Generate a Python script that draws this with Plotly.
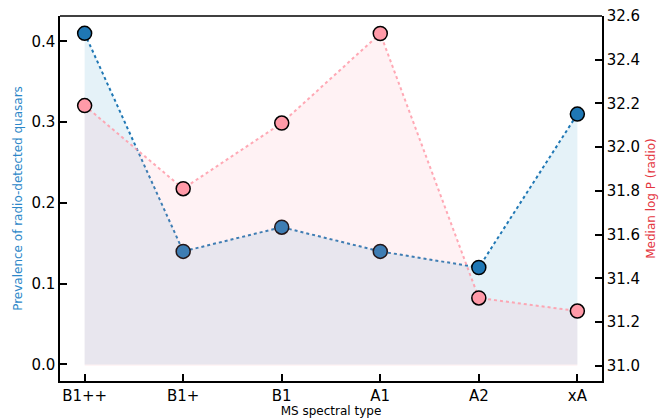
import plotly.graph_objects as go

categories = ["B1++", "B1+", "B1", "A1", "A2", "xA"]
prevalence = [0.41, 0.14, 0.17, 0.14, 0.12, 0.31]
median_logp = [32.19, 31.81, 32.11, 32.52, 31.31, 31.25]
left_ticks = [0.0, 0.1, 0.2, 0.3, 0.4]
right_ticks = [31.0, 31.2, 31.4, 31.6, 31.8, 32.0, 32.2, 32.4, 32.6]
right_base = 31.0

BLUE = "#1f77b4"
PINK = "#ff9aa8"
FONT = "DejaVu Sans"

fig = go.Figure()
fig.add_trace(go.Scatter(
    x=categories, y=prevalence, mode="lines+markers", yaxis="y",
    fill="tozeroy", fillcolor="rgba(135,196,224,0.22)",
    line=dict(color=BLUE, width=2, dash="dot"),
    marker=dict(size=14, color=BLUE, line=dict(color="black", width=1.5)),
    showlegend=False, cliponaxis=False,
))
fig.add_trace(go.Scatter(
    x=categories, y=[right_base] * len(categories), mode="lines", yaxis="y2",
    line=dict(width=0, color="rgba(0,0,0,0)"), showlegend=False, hoverinfo="skip",
))
fig.add_trace(go.Scatter(
    x=categories, y=median_logp, mode="lines+markers", yaxis="y2",
    fill="tonexty", fillcolor="rgba(255,160,175,0.14)",
    line=dict(color="rgba(255,154,168,0.85)", width=2, dash="dot"),
    marker=dict(size=14, color=PINK, line=dict(color="black", width=1.5)),
    showlegend=False, cliponaxis=False,
))

axis_common = dict(
    showline=True, linecolor="black", linewidth=1.5, mirror=False,
    ticks="inside", ticklen=7, tickwidth=1.5, tickcolor="black",
    showgrid=False, zeroline=False, automargin=False,
    tickfont=dict(family=FONT, size=15, color="black"),
)

fig.update_layout(
    width=662, height=418,
    margin=dict(l=60, r=60, t=16, b=37, autoexpand=False),
    plot_bgcolor="white", paper_bgcolor="white",
    font=dict(family=FONT),
    xaxis=dict(
        **axis_common, type="category", range=[-0.25, 5.25],
        categoryorder="array", categoryarray=categories,
        title=dict(text="MS spectral type", font=dict(family=FONT, size=12, color="black"), standoff=2),
    ),
    yaxis=dict(
        **axis_common, range=[-0.0205, 0.4315], tickvals=left_ticks, tickformat=".1f",
        title=dict(text="Prevalence of radio-detected quasars", font=dict(family=FONT, size=12, color="#2c87c8"), standoff=6),
    ),
    yaxis2=dict(
        **axis_common, overlaying="y", side="right", range=[30.93, 32.6],
        tickvals=right_ticks, tickformat=".1f",
        title=dict(text="Median log P (radio)", font=dict(family=FONT, size=12, color="#e4363f"), standoff=7),
    ),
    shapes=[dict(type="line", xref="paper", yref="paper", x0=0, x1=1, y0=1, y1=1,
                 line=dict(color="black", width=1.5))],
)

fig.write_html("out.html")
